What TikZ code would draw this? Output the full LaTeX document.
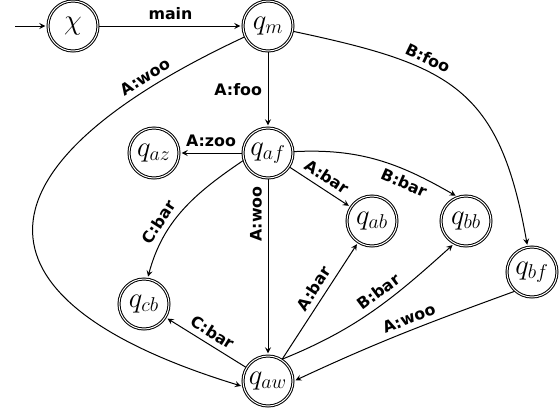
\documentclass[tikz,border=0pt]{standalone}
\usepackage{fontspec}
\setmainfont{DejaVu Sans}
\usepackage{amsmath}
\usetikzlibrary{automata,positioning}

\tikzset{lab/.style={font=\fontsize{9.5}{11}\selectfont\bfseries}}

\begin{document}
\begin{tikzpicture}[->,>=stealth,shorten >=1pt,auto,x=0.6pt,y=0.6pt,semithick,
    initial text=,initial distance=19pt,
    every state/.style={minimum size=30pt,inner sep=0pt,font=\LARGE}]
  \useasboundingbox (0,0) rectangle (560,-413);
  \node[initial,state,accepting] (chi) at (73,-26)  {$\chi$};
  \node[state,accepting]         (qm)  at (268,-26) {$q_m$};
  \node[state,accepting]         (qaf) at (268,-153) {$q_{af}$};
  \node[state,accepting]         (qaz) at (154,-153) {$q_{az}$};
  \node[state,accepting]         (qab) at (372,-221) {$q_{ab}$};
  \node[state,accepting]         (qbb) at (466,-221) {$q_{bb}$};
  \node[state,accepting]         (qbf) at (532,-272) {$q_{bf}$};
  \node[state,accepting]         (qcb) at (144,-304) {$q_{cb}$};
  \node[state,accepting]         (qaw) at (268,-381) {$q_{aw}$};

  \path (chi) edge node[lab] {main} (qm)
        (qm)  edge node[lab,swap] {A:foo} (qaf)
              edge [out=-12,in=100,looseness=1.3] node[lab,sloped,above,pos=0.35] {B:foo} (qbf)
              edge [out=205,in=163,out looseness=2.2,in looseness=2.2]
                   node[lab,sloped,above,pos=0.13] {A:woo} (qaw.192)
        (qaf) edge node[lab,swap] {A:zoo} (qaz)
              edge node[lab,sloped,above] {A:bar} (qab)
              edge [out=3,in=150] node[lab,sloped,below,pos=0.7] {B:bar} (qbb.110)
              edge node[lab,rotate=90,anchor=south,pos=0.2] {A:woo} (qaw)
        (qaf.197) edge [out=214,in=75] node[lab,sloped,above,pos=0.66] {C:bar} (qcb.82)
        (qaw) edge node[lab,sloped,above] {C:bar} (qcb)
              edge node[lab,sloped,above,pos=0.55] {A:bar} (qab)
        (qaw.57) edge [out=22,in=222] node[lab,sloped,above,pos=0.58] {B:bar} (qbb.242)
        (qbf.228) edge [out=200,in=25] node[lab,sloped,above,pos=0.45] {A:woo} (qaw.0);
\end{tikzpicture}
\end{document}
